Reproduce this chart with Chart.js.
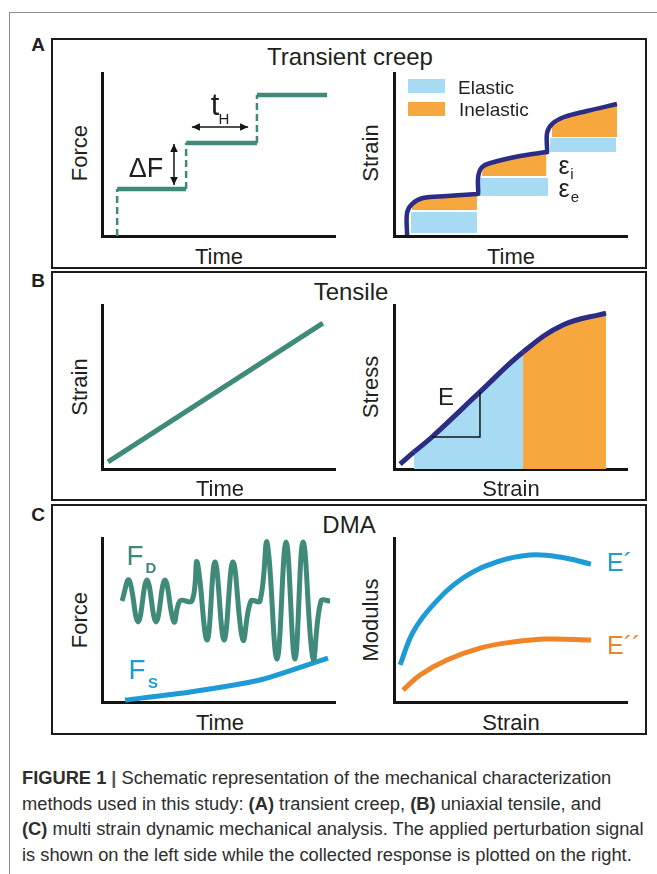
<!DOCTYPE html>
<html lang="en">
<head>
<meta charset="utf-8">
<title>Mechanical characterization methods</title>
<script src="https://cdn.jsdelivr.net/npm/chart.js@4.4.1/dist/chart.umd.min.js"></script>
<style>
  html, body { margin: 0; padding: 0; background: #fff; }
  body {
    position: relative; width: 657px; height: 874px; overflow: hidden;
    font-family: "Liberation Sans", Arial, Helvetica, sans-serif; color: #231f20;
  }
  .frame { position: absolute; left: 9px; top: 12px; width: 700px; height: 900px;
           border-left: 1px solid #8e8e8e; border-top: 1px solid #8e8e8e; }
  .panel { position: absolute; left: 51px; width: 596px; box-sizing: border-box; border: 2px solid #1c1c1c; }
  canvas { position: absolute; }
  .lbl { position: absolute; transform: translate(-50%, -50%); white-space: nowrap; line-height: 1; }
  .rot { transform: translate(-50%, -50%) rotate(-90deg); }
  .tag { font-weight: bold; font-size: 19px; }
  .title { font-size: 24px; }
  .ax { font-size: 22px; }
  .swatch { position: absolute; left: 408px; width: 37px; height: 14px; }
  .leg { position: absolute; font-size: 19px; line-height: 1; transform: translateY(-50%); }
  .caption { position: absolute; left: 22px; top: 765px; font-size: 18.3px; line-height: 25.5px; color: #2e2e2e; white-space: nowrap; }
  .caption .bar { color: #555; font-weight: bold; margin: 0 5px; }
</style>
</head>
<body>
<div class="frame"></div>

<div class="panel" style="top:38px;height:231px"></div>
<div class="panel" style="top:271px;height:230px"></div>
<div class="panel" style="top:504px;height:231px"></div>

<div class="lbl tag" style="left:38px;top:44px">A</div>
<div class="lbl tag" style="left:38px;top:280px">B</div>
<div class="lbl tag" style="left:38px;top:514px">C</div>

<div class="lbl title" style="left:350px;top:57px">Transient creep</div>
<div class="lbl title" style="left:351px;top:292px">Tensile</div>
<div class="lbl title" style="left:349px;top:525px">DMA</div>

<canvas id="stepForce" width="249" height="179" style="left:94px;top:65px"></canvas>
<canvas id="creep" width="249" height="179" style="left:386px;top:65px"></canvas>
<canvas id="ramp" width="249" height="180" style="left:94px;top:297px"></canvas>
<canvas id="tensile" width="249" height="180" style="left:386px;top:297px"></canvas>
<canvas id="dynamic" width="249" height="180" style="left:94px;top:530px"></canvas>
<canvas id="modulus" width="249" height="180" style="left:386px;top:530px"></canvas>

<!-- axis names -->
<div class="lbl ax rot" style="left:80px;top:153px">Force</div>
<div class="lbl ax" style="left:219px;top:257px">Time</div>
<div class="lbl ax rot" style="left:371px;top:153px">Strain</div>
<div class="lbl ax" style="left:511px;top:257px">Time</div>

<div class="lbl ax rot" style="left:80px;top:387px">Strain</div>
<div class="lbl ax" style="left:220px;top:489px">Time</div>
<div class="lbl ax rot" style="left:371px;top:387px">Stress</div>
<div class="lbl ax" style="left:511px;top:489px">Strain</div>

<div class="lbl ax rot" style="left:80px;top:620px">Force</div>
<div class="lbl ax" style="left:220px;top:723px">Time</div>
<div class="lbl ax rot" style="left:371px;top:620px">Modulus</div>
<div class="lbl ax" style="left:511px;top:723px">Strain</div>

<!-- annotations -->
<div class="lbl" style="left:146px;top:168px;font-size:27px">ΔF</div>
<div class="lbl" style="left:215px;top:104px;font-size:31px">t</div>
<div class="lbl" style="left:224px;top:118px;font-size:15px">H</div>

<div class="swatch" style="top:79px;background:#a6dbf3"></div>
<div class="swatch" style="top:102px;background:#f6a83e"></div>
<div class="leg" style="left:458px;top:87px">Elastic</div>
<div class="leg" style="left:459px;top:109px">Inelastic</div>
<div class="lbl" style="left:564px;top:165px;font-size:25px">ε</div>
<div class="lbl" style="left:572px;top:173px;font-size:15px">i</div>
<div class="lbl" style="left:564px;top:188px;font-size:25px">ε</div>
<div class="lbl" style="left:575px;top:196px;font-size:15px">e</div>

<div class="lbl" style="left:446px;top:397px;font-size:24px">E</div>

<div class="lbl" style="left:135px;top:556px;font-size:28px;color:#3f8a79">F</div>
<div class="lbl" style="left:151px;top:567px;font-size:15px;font-weight:bold;color:#3f8a79">D</div>
<div class="lbl" style="left:137px;top:670px;font-size:28px;color:#1e9bd7">F</div>
<div class="lbl" style="left:153px;top:682px;font-size:15px;font-weight:bold;color:#1e9bd7">S</div>
<div class="leg" style="left:607px;top:562px;font-size:25px;color:#1e9bd7">E´</div>
<div class="leg" style="left:607px;top:645px;font-size:25px;color:#f08427">E´´</div>

<div class="caption">
  <div><b>FIGURE 1</b><span class="bar">|</span>Schematic representation of the mechanical characterization</div>
  <div>methods used in this study: <b>(A)</b> transient creep, <b>(B)</b> uniaxial tensile, and</div>
  <div><b>(C)</b> multi strain dynamic mechanical analysis. The applied perturbation signal</div>
  <div>is shown on the left side while the collected response is plotted on the right.</div>
</div>

<script>
// A: force steps applied during creep, and the strain they produce
const stepTime  = [6.5, 36.1, 66.5, 96.6];   // step onsets, last value = end of final hold
const stepForce = [28.8, 57.1, 86.5];
const deltaFArrow = { x: 30.9, from: 31.3, to: 56.4 };
const holdArrow   = { y: 66.9, from: 38.6, to: 62.7 };

const creepTime = [
  [5.6, 5.6, 7.7, 12.4, 22.7, 35.6],
  [36.1, 36.1, 37.8, 42.9, 54.1, 65.4],
  [65.7, 65.7, 67.8, 73.0, 82.8, 95.7]
];
const creepStrain = [
  [0.6, 14.1, 19.6, 23.3, 24.5, 25.8],
  [25.8, 36.2, 42.3, 45.4, 49.1, 51.5],
  [51.5, 63.2, 68.7, 73.0, 76.7, 81.0]
];
const elasticStart = [7.3, 36.9, 67.0];
const elasticEnd   = [35.6, 66.1, 95.3];
const elasticLow   = [1.8, 24.5, 51.5];
const elasticHigh  = [14.7, 35.6, 60.1];
const inelasticLow = [16.0, 36.8, 60.7];

// B: tensile ramp and stress-strain response
const rampTime   = [2.6, 94.8];
const rampStrain = [4.3, 89.0];
const tensileStrain = [2.6, 8.6, 16.3, 36.9, 55.4, 72.5, 91.0];
const tensileStress = [3.0, 10.4, 19.5, 47.0, 71.3, 87.8, 95.1];
const elasticFrom = 8.6;
const yieldStrain = 55.4;
const slopeStrain = [16.3, 36.9, 36.9];
const slopeStress = [19.5, 19.5, 47.0];

// C: DMA drive signal and moduli
const dmaTime = [8.6, 11.6, 15.5, 19.3, 23.2, 27.0, 30.9, 33.5, 38.6, 40.8, 45.1, 48.5, 52.4,
                 56.2, 60.5, 63.9, 67.8, 70.8, 75.1, 79.0, 82.8, 86.3, 90.6, 94.0, 97.9];
const dynamicForce = [61.6, 74.4, 48.8, 74.4, 48.8, 74.4, 48.8, 61.6, 61.6, 85.4, 37.8, 85.4, 37.8,
                      85.4, 37.8, 61.6, 61.6, 97.6, 26.2, 97.6, 26.2, 97.6, 26.2, 61.6, 61.6];
const staticTime  = [9.9, 37.8, 67.8, 97.0];
const staticForce = [1.2, 6.1, 13.4, 26.8];
const storageStrain = [2.6, 8.2, 16.7, 29.6, 44.2, 58.4, 71.2, 84.5];
const storageMod    = [22.6, 42.7, 59.1, 75.6, 85.4, 89.6, 88.4, 84.1];
const lossStrain = [3.9, 11.2, 22.7, 36.9, 51.1, 65.7, 84.5];
const lossMod    = [7.3, 16.5, 25.6, 32.9, 36.6, 38.4, 37.8];

const TEAL = '#3f8a79';
const NAVY = '#2b2c86';
const ICE = '#a6dbf3';
const AMBER = '#f6a83e';
const SKY = '#1e9bd7';
const TANGERINE = '#f08427';
const INK = '#141414';

const pts = (xs, ys) => xs.map((x, i) => ({ x, y: ys[i] }));

function axis(dir) {
  return {
    type: 'linear', min: 0, max: 100,
    ticks: { display: false },
    grid: { display: false },
    border: { display: true, width: 3, color: INK },
    afterFit: s => { if (dir === 'x') s.height = 0; else s.width = 0; }
  };
}

function plot(id, datasets, plugins = []) {
  datasets.forEach(d => { d.clip = false; if (d.fill === undefined) d.fill = false; });
  return new Chart(document.getElementById(id), {
    type: 'line',
    data: { datasets },
    options: {
      responsive: false,
      animation: false,
      devicePixelRatio: 1,
      events: [],
      layout: { padding: 8 },
      plugins: { legend: { display: false }, tooltip: { enabled: false } },
      elements: { point: { radius: 0 }, line: { borderJoinStyle: 'round' } },
      scales: { x: axis('x'), y: axis('y') }
    },
    plugins
  });
}

function arrowHead(ctx, x, y, ang) {
  const len = 8, half = 3.8;
  ctx.beginPath();
  ctx.moveTo(x, y);
  ctx.lineTo(x - len * Math.cos(ang) + half * Math.sin(ang), y - len * Math.sin(ang) - half * Math.cos(ang));
  ctx.lineTo(x - len * Math.cos(ang) - half * Math.sin(ang), y - len * Math.sin(ang) + half * Math.cos(ang));
  ctx.closePath();
  ctx.fill();
}

function doubleArrow(ctx, x0, y0, x1, y1) {
  const ang = Math.atan2(y1 - y0, x1 - x0);
  ctx.beginPath();
  ctx.moveTo(x0, y0);
  ctx.lineTo(x1, y1);
  ctx.stroke();
  arrowHead(ctx, x1, y1, ang);
  arrowHead(ctx, x0, y0, ang + Math.PI);
}

const arrows = {
  id: 'arrows',
  afterDatasetsDraw(chart) {
    const { ctx, scales: { x, y } } = chart;
    ctx.save();
    ctx.strokeStyle = INK;
    ctx.fillStyle = INK;
    ctx.lineWidth = 1.5;
    const ax = x.getPixelForValue(deltaFArrow.x);
    doubleArrow(ctx, ax, y.getPixelForValue(deltaFArrow.from), ax, y.getPixelForValue(deltaFArrow.to));
    const ay = y.getPixelForValue(holdArrow.y);
    doubleArrow(ctx, x.getPixelForValue(holdArrow.from), ay, x.getPixelForValue(holdArrow.to), ay);
    ctx.restore();
  }
};

// A left: staircase of force, dashed on the ramps
const stepPts = [];
stepForce.forEach((f, i) => {
  stepPts.push({ x: stepTime[i], y: i ? stepForce[i - 1] : 0 });
  stepPts.push({ x: stepTime[i], y: f });
});
stepPts.push({ x: stepTime[stepTime.length - 1], y: stepForce[stepForce.length - 1] });
const isRamp = c => c.p0.parsed.x === c.p1.parsed.x;

plot('stepForce', [{
  data: stepPts,
  borderColor: TEAL,
  borderWidth: 4.5,
  borderJoinStyle: 'miter',
  tension: 0,
  segment: {
    borderDash: c => isRamp(c) ? [7, 4] : undefined,
    borderWidth: c => isRamp(c) ? 2.5 : undefined
  }
}], [arrows]);

// A right: creep curve over elastic / inelastic parts
const creepSets = [{
  data: pts(creepTime.flat(), creepStrain.flat()),
  borderColor: NAVY,
  borderWidth: 4.5,
  tension: 0.35
}];
creepTime.forEach((ts, k) => {
  creepSets.push({
    data: pts(ts.slice(2), creepStrain[k].slice(2)),
    borderWidth: 0,
    backgroundColor: AMBER,
    fill: { value: inelasticLow[k] },
    tension: 0.35
  });
});
elasticStart.forEach((s, k) => {
  creepSets.push({
    data: [{ x: s, y: elasticHigh[k] }, { x: elasticEnd[k], y: elasticHigh[k] }],
    borderWidth: 0,
    backgroundColor: ICE,
    fill: { value: elasticLow[k] },
    tension: 0
  });
});
plot('creep', creepSets);

// B left: constant strain rate
plot('ramp', [{
  data: pts(rampTime, rampStrain),
  borderColor: TEAL,
  borderWidth: 5,
  tension: 0
}]);

// B right: stress-strain with elastic and plastic regions shaded
plot('tensile', [{
  data: pts(slopeStrain, slopeStress),
  borderColor: INK,
  borderWidth: 1.5,
  borderJoinStyle: 'miter',
  tension: 0
}, {
  data: pts(tensileStrain, tensileStress),
  borderColor: NAVY,
  borderWidth: 5,
  tension: 0.4,
  fill: 'origin',
  backgroundColor: ICE,
  segment: {
    backgroundColor: c => c.p0.parsed.x < elasticFrom ? 'rgba(0,0,0,0)'
      : c.p0.parsed.x < yieldStrain ? ICE : AMBER
  }
}]);

// C left: oscillating drive on top of the static force
plot('dynamic', [{
  data: pts(dmaTime, dynamicForce),
  borderColor: TEAL,
  borderWidth: 5,
  tension: 0.4
}, {
  data: pts(staticTime, staticForce),
  borderColor: SKY,
  borderWidth: 5,
  tension: 0.2
}]);

// C right: storage and loss modulus against strain
plot('modulus', [{
  data: pts(storageStrain, storageMod),
  borderColor: SKY,
  borderWidth: 5,
  tension: 0.4
}, {
  data: pts(lossStrain, lossMod),
  borderColor: TANGERINE,
  borderWidth: 5,
  tension: 0.4
}]);
</script>
</body>
</html>
